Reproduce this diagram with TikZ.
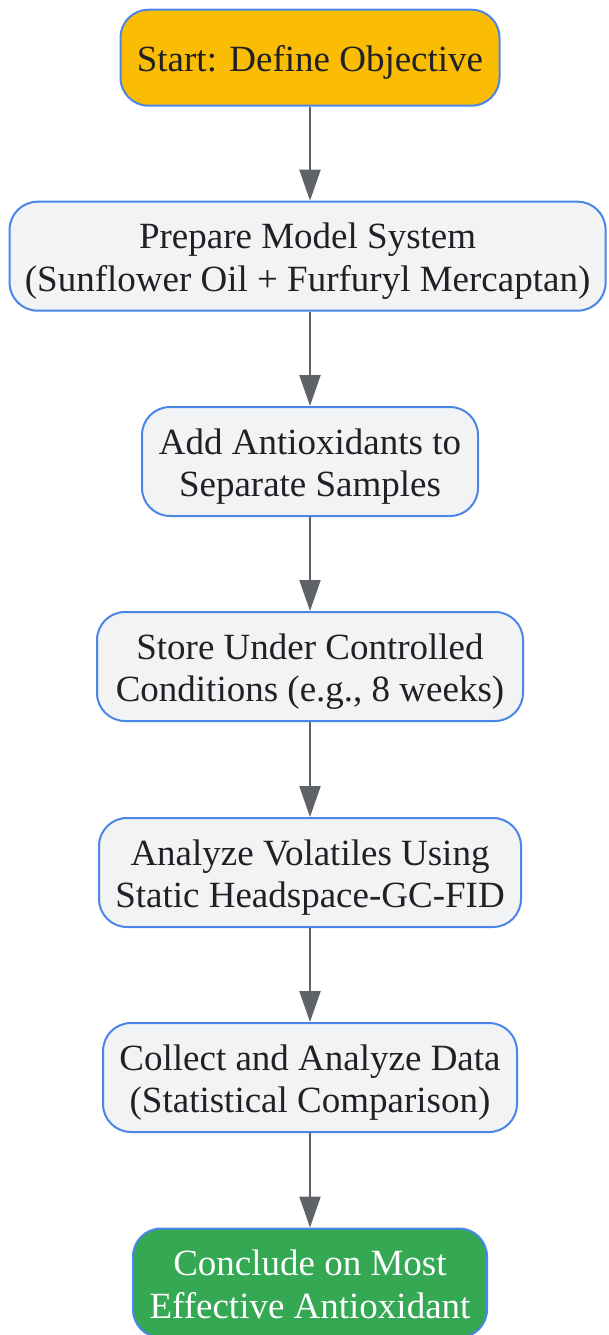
\documentclass[tikz,border=0pt]{standalone}
\usepackage{fontspec}
\setmainfont{Liberation Serif}
\usetikzlibrary{arrows.meta}
\definecolor{bluebd}{HTML}{4A86E8}
\definecolor{boxfill}{HTML}{F1F3F4}
\definecolor{startfill}{HTML}{FBBC04}
\definecolor{endfill}{HTML}{34A853}
\definecolor{arrowc}{HTML}{5F6368}
\definecolor{txt}{HTML}{202124}
\newcommand\mytopst{\rule{0pt}{36pt}}
\newcommand\mybotst{\rule[-8pt]{0pt}{8pt}}
\begin{document}
\begin{tikzpicture}[x=1pt,y=-1pt,
  stepbox/.style={draw=bluebd, line width=2pt, fill=boxfill, rounded corners=28pt,
    align=center, text=txt, inner sep=0pt,
    font=\fontsize{37}{42.5}\selectfont},
  flow/.style={draw=arrowc, line width=2.2pt, -{Triangle[length=31pt,width=21pt]}}]
\useasboundingbox (0,0) rectangle (608,1335);
\node[stepbox, fill=startfill, minimum width=379pt, minimum height=96pt] (s1) at (310,57.7) {\mytopst Start: Define Objective\mybotst};
\node[stepbox, minimum width=596pt, minimum height=109pt] (s2) at (307.6,256.2) {\mytopst Prepare Model System\\(Sunflower Oil + Furfuryl Mercaptan)\mybotst};
\node[stepbox, minimum width=336pt, minimum height=109pt] (s3) at (310,461.5) {\mytopst Add Antioxidants to\\Separate Samples\mybotst};
\node[stepbox, minimum width=426pt, minimum height=109pt] (s4) at (310,666.5) {\mytopst Store Under Controlled\\Conditions (e.g., 8 weeks)\mybotst};
\node[stepbox, minimum width=422pt, minimum height=109pt] (s5) at (310,872.5) {\mytopst Analyze Volatiles Using\\Static Headspace-GC-FID\mybotst};
\node[stepbox, minimum width=414pt, minimum height=109pt] (s6) at (310,1077.5) {\mytopst Collect and Analyze Data\\(Statistical Comparison)\mybotst};
\node[stepbox, fill=endfill, text=white, minimum width=354pt, minimum height=109pt] (s7) at (310,1283) {\mytopst Conclude on Most\\Effective Antioxidant\mybotst};
\draw[flow] (s1.south -| 310,0) -- (s2.north -| 310,0);
\draw[flow] (s2.south -| 310,0) -- (s3.north);
\draw[flow] (s3) -- (s4);
\draw[flow] (s4) -- (s5);
\draw[flow] (s5) -- (s6);
\draw[flow] (s6) -- (s7);
\end{tikzpicture}
\end{document}
